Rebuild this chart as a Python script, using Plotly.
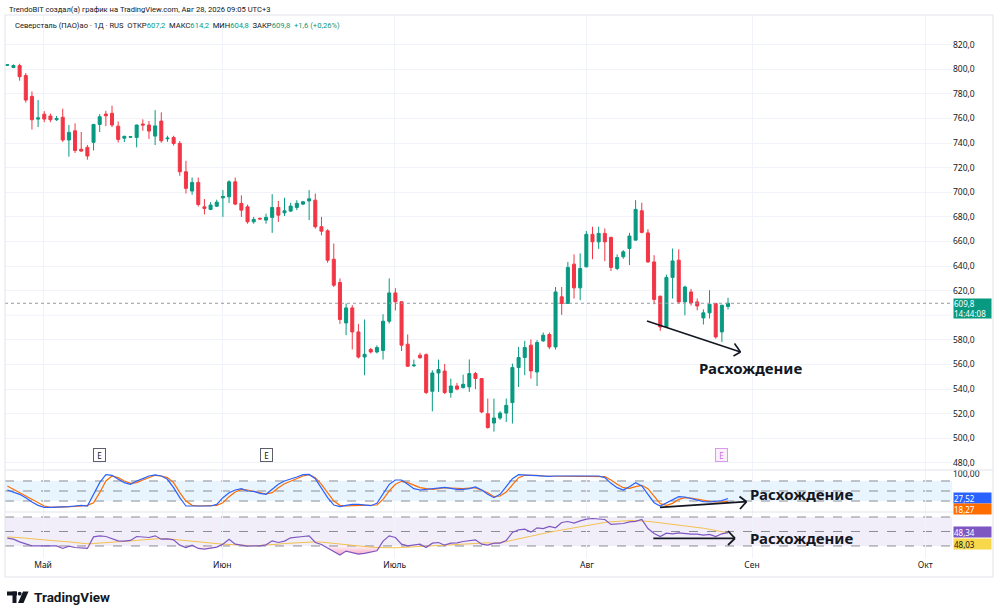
import plotly.graph_objects as go

# ---------------- data ----------------
opens = [803.3,801.5,803.0,795.0,778.0,759.5,763.5,762.0,759.0,761.0,742.5,750.0,735.0,736.5,740.6,755.2,763.6,764.2,753.8,744.0,
         744.8,744.6,755.5,754.7,745.7,757.9,743.5,744.6,739.8,716.7,701.0,708.0,688.2,686.1,688.7,695.5,696.3,708.5,691.0,688.2,
         676.0,678.8,677.4,679.6,687.7,683.3,684.7,687.7,690.4,693.0,693.6,672.0,668.7,645.6,626.7,593.8,606.0,586.5,566.1,572.2,
         570.2,571.4,595.2,618.2,611.0,576.5,559.0,567.5,568.0,538.2,553.1,554.7,537.2,542.5,541.2,541.8,552.6,548.6,520.0,512.4,
         516.5,520.5,529.0,557.5,565.7,575.7,553.9,579.2,584.4,574.3,615.0,609.6,641.6,622.3,639.4,665.8,659.7,666.6,663.3,638.1,
         647.6,654.3,661.1,685.0,667.0,643.4,615.5,590.5,630.8,644.8,610.9,619.0,610.9,597.9,602.0,609.6,586.5,607.2]
highs = [804.0,804.0,804.5,797.0,782.0,775.0,766.0,764.0,762.0,768.0,754.7,756.0,749.0,738.5,755.5,763.6,766.3,770.4,757.5,746.0,
         745.8,755.0,759.3,758.0,766.8,765.0,746.0,746.0,741.6,725.6,712.0,712.0,694.5,692.0,694.0,701.8,709.8,712.0,697.5,690.0,
         680.0,679.5,682.6,698.5,693.0,695.5,691.5,693.6,693.0,701.8,699.0,680.0,670.0,658.4,630.0,609.6,608.2,593.0,596.6,573.5,
         575.6,600.9,630.0,622.0,611.5,584.4,564.0,569.5,569.0,555.3,564.0,560.4,548.6,545.0,551.7,564.1,554.0,549.0,532.3,532.3,
         522.0,532.3,560.7,574.3,579.2,580.4,579.8,586.0,586.0,623.0,623.0,643.4,649.5,650.3,668.5,672.0,672.0,670.6,664.0,649.5,
         653.0,667.0,693.6,691.5,670.0,648.9,616.0,633.0,654.3,653.6,624.0,621.5,613.6,604.8,620.4,610.0,608.5,614.2]
lows = [802.8,801.0,790.7,773.0,751.0,753.0,757.0,757.0,758.0,741.0,729.0,732.0,733.0,726.5,734.0,749.0,753.8,753.0,740.5,740.8,
        744.3,736.5,750.0,743.4,738.4,740.3,741.0,738.0,713.4,699.0,698.0,688.5,682.0,685.5,688.0,680.0,691.3,689.5,680.0,674.5,
        674.5,678.0,674.5,667.0,675.9,680.8,684.0,685.5,689.5,677.4,670.5,665.0,642.7,623.0,593.0,583.8,572.2,564.9,551.3,569.0,
        569.0,564.0,593.3,604.0,571.0,558.0,558.0,564.5,536.0,521.9,537.7,536.0,533.0,539.0,540.5,537.7,540.0,520.5,507.9,505.4,
        515.0,513.3,512.0,541.7,551.3,548.6,542.5,578.5,572.5,572.2,600.3,609.6,613.6,612.3,639.0,645.6,654.0,644.0,636.0,636.8,
        646.0,640.8,661.0,666.6,642.6,609.0,587.3,590.0,613.6,609.6,600.0,608.0,604.0,592.5,597.4,581.0,578.3,604.8]
closes = [803.6,803.0,794.0,775.0,759.0,760.5,759.5,759.0,760.0,742.5,748.7,734.0,733.5,729.5,755.2,761.4,762.2,754.7,743.0,745.5,
          745.2,754.7,754.7,749.8,754.0,741.9,744.0,739.7,716.7,703.2,708.0,690.0,686.9,689.6,692.0,696.6,708.5,690.4,685.5,676.0,
          678.0,678.3,679.6,687.7,681.4,685.0,688.8,691.0,692.3,694.7,672.0,668.4,644.8,624.5,596.6,606.0,586.5,566.1,568.3,570.2,
          573.8,595.2,618.2,611.0,575.7,558.6,559.5,565.6,537.2,553.1,555.9,537.2,542.5,540.0,543.9,552.6,548.6,521.4,508.7,516.5,
          520.5,526.8,557.5,565.7,573.8,554.8,577.9,583.8,574.3,619.0,609.6,638.9,622.3,638.1,665.8,659.7,666.6,659.7,638.9,647.0,
          651.6,664.4,686.1,667.4,643.4,612.9,590.5,630.8,644.2,610.9,623.0,610.0,607.6,602.0,609.0,582.4,608.2,609.8]

stoch_k = [53,47,40,30,17,7,1,1,1,1,3,5,7,5,40,75,99,97,85,75,70,80,87,95,98,95,85,60,30,5,5,5,5,5,10,30,45,53,57,50,
           49,43,40,55,70,80,85,92,99,99.5,87,57,30,8,3,7,10,10,7,6,13,40,70,83,83,70,57,53,55,55,58,61,58,55,55,57,62,53,40,30,
           40,63,87,99,98,97,95,95,94,95,95,94,95,95,94,95,95,90,73,60,53,63,75,65,40,15,5,15,25,33,32,27,22,18,17,18,21,27.52]
stoch_d = [65,55,45,35,25,15,5,1,1,2,3,4,6,7,15,45,80,95,90,80,73,75,83,90,97,95,90,75,45,20,7,5,5,5,7,15,33,47,55,53,
           49,45,41,45,60,72,79,87,95,99,90,70,45,20,7,5,6,7,8,7,8,25,50,70,79,75,67,60,57,55,57,60,59,57,57,59,59,53,45,33,
           35,47,70,90,97,98,97,95,95,95,95,95,95,95,95,95,95,93,83,70,60,58,63,67,57,35,12,7,13,25,30,29,25,22,19,17,17,18.27]
rsi = [40.8,39.4,35.7,32.5,30.2,30.2,30.2,29.8,30.2,26.6,29.8,27.9,27.5,26.6,42.6,44,43.1,40.3,37.1,36.7,
       37.6,43.1,42.6,41.7,44,39.4,39.9,38.5,31.1,27.9,31.1,26.6,25.6,27,28.4,32.5,39.4,32.5,31.1,29.8,
       30.2,30.2,31.6,37.1,34.8,36.7,41.3,42.6,43.1,44,34.8,32.1,27.5,22.4,17.4,22.9,21,18.7,19.7,21,
       23.3,36.7,44,41.7,32.5,30.2,31.1,32.5,27.9,33.9,34.8,31.1,33.9,34.4,36.2,37.6,38.5,32.5,31.1,33.9,
       33.9,37.6,48.6,52.3,53.2,49.1,55.1,54.1,56.9,55.1,62.4,63.8,61.5,64.7,67,67.9,67,66.6,59.7,60.1,
       61,63.3,64,66.5,54.1,47.2,43.1,47.7,46.8,48.2,46.8,46.3,46.3,44.9,45.9,43.1,46.8,48.34]
rsi_ma = [42.6,42.2,41.7,40.8,39.9,39,38,37.6,36.7,36.2,35.7,34.8,33.9,33,33.4,33.9,34.8,35.3,35.7,36.2,
          37.1,37.6,38.5,39.4,40.3,40.3,39.9,39,38,37.1,36.2,35.3,34.4,33.4,33,32.5,32.1,31.6,31.1,30.2,
          30.2,30.7,31.1,31.6,32.5,33.4,33.9,34.8,35.3,35.7,35.7,35.3,34.4,33.4,32.1,31.1,30.2,29.3,28.9,28.4,
          27.9,27.5,27.5,27.5,27.9,28.4,28.9,29.3,29.8,30.2,30.7,31.1,31.6,32.1,32.5,33,33.4,33.9,34.4,33.5,
          34.5,36,38,40,42,44,45.5,47,49,50.5,52,54,55.5,57,58.5,60,61.5,62.5,63.3,64,
          64.5,65,65,64.8,64,63,62,61,60,59,58,57,56,54.5,53,51.5,50,48.03]

month_pos = [5.8, 34.9, 62.9, 94.1, 120.9, 149.0]
month_names = ["Май", "Июн", "Июль", "Авг", "Сен", "Окт"]
price_ticks = [t for t in range(480, 821, 20) if t != 600]   # 600,0 is hidden by the last-price tag
hidden_grid = [600]
stoch_levels = [80, 50, 20]
rsi_levels = [70, 50, 30]
earnings_idx = [15, 42, 116]

bars = list(range(len(closes)))

# ---------------- geometry helpers (pixel -> paper) ----------------
PL, PR, PT, PB = 5, 952, 15, 558
def px(x):
    return (x - PL) / (PR - PL)
def py(y):
    return 1 - (y - PT) / (PB - PT)

GREEN = "#089981"
RED = "#F23645"
TXT = "#131722"
GRID = "#f0f3fa"
FONT = "Noto Sans"

fig = go.Figure()

fig.add_trace(go.Candlestick(
    x=bars, open=opens, high=highs, low=lows, close=closes,
    increasing=dict(line=dict(color=GREEN, width=1), fillcolor=GREEN),
    decreasing=dict(line=dict(color=RED, width=1), fillcolor=RED),
    whiskerwidth=0, hoverinfo="skip", xaxis="x", yaxis="y", showlegend=False))

fig.add_trace(go.Scatter(x=bars, y=stoch_d, mode="lines", line=dict(color="#FF6D00", width=1.2),
                         xaxis="x2", yaxis="y2", hoverinfo="skip", showlegend=False))
fig.add_trace(go.Scatter(x=bars, y=stoch_k, mode="lines", line=dict(color="#2962FF", width=1.2),
                         xaxis="x2", yaxis="y2", hoverinfo="skip", showlegend=False))

# oversold gradient fill under 30
fig.add_trace(go.Scatter(x=bars, y=[rsi_levels[2]] * len(bars), mode="lines", line=dict(width=0),
                         xaxis="x3", yaxis="y3", hoverinfo="skip", showlegend=False))
fig.add_trace(go.Scatter(x=bars, y=[min(v, rsi_levels[2]) for v in rsi], mode="lines", line=dict(width=0),
                         fill="tonexty",
                         fillgradient=dict(type="vertical", start=0, stop=rsi_levels[2],
                                           colorscale=[[0, "rgba(242,54,120,1)"], [1, "rgba(242,54,120,0.05)"]]),
                         xaxis="x3", yaxis="y3", hoverinfo="skip", showlegend=False))
fig.add_trace(go.Scatter(x=bars, y=rsi_ma, mode="lines", line=dict(color="#F2C14E", width=1),
                         xaxis="x3", yaxis="y3", hoverinfo="skip", showlegend=False))
fig.add_trace(go.Scatter(x=bars, y=rsi, mode="lines", line=dict(color="#7E57C2", width=1.2),
                         xaxis="x3", yaxis="y3", hoverinfo="skip", showlegend=False))

x_lo = (PL - 7.3) / 6.16
x_hi = (PR - 7.3) / 6.16

xcommon = dict(range=[x_lo, x_hi], tickvals=month_pos, ticktext=month_names, showgrid=True,
               gridcolor=GRID, gridwidth=1, zeroline=False, showline=False, ticks="", fixedrange=True)

shapes = []
for gv in hidden_grid:
    shapes.append(dict(type="line", xref="paper", yref="y", x0=0, x1=1, y0=gv, y1=gv,
                       line=dict(color=GRID, width=1), layer="below"))
# pane bands and level lines
shapes.append(dict(type="rect", xref="paper", yref="y2", x0=0, x1=1, y0=stoch_levels[2], y1=stoch_levels[0],
                   fillcolor="rgba(33,150,243,0.1)", line=dict(width=0), layer="below"))
shapes.append(dict(type="rect", xref="paper", yref="y3", x0=0, x1=1, y0=rsi_levels[2], y1=rsi_levels[0],
                   fillcolor="rgba(126,87,194,0.1)", line=dict(width=0), layer="below"))
for lv in stoch_levels:
    shapes.append(dict(type="line", xref="paper", yref="y2", x0=0, x1=1, y0=lv, y1=lv,
                       line=dict(color="#8a8d96", width=1, dash="dash"), layer="below"))
for lv in rsi_levels:
    shapes.append(dict(type="line", xref="paper", yref="y3", x0=0, x1=1, y0=lv, y1=lv,
                       line=dict(color="#8a8d96", width=1, dash="dash"), layer="below"))
# last price dotted line
shapes.append(dict(type="line", xref="paper", yref="y", x0=0, x1=1, y0=closes[-1], y1=closes[-1],
                   line=dict(color="#9598a1", width=1, dash="dot")))
# pane separators and frame
for ysep in (470, 512):
    shapes.append(dict(type="line", xref="paper", yref="paper", x0=px(5), x1=px(993), y0=py(ysep), y1=py(ysep),
                       line=dict(color="#e0e3eb", width=1)))
shapes.append(dict(type="rect", xref="paper", yref="paper", x0=px(5), x1=px(993), y0=py(15), y1=py(577),
                   line=dict(color="#e0e3eb", width=1), fillcolor="rgba(0,0,0,0)"))

# divergence drawings (black lines with open chevrons)
def seg(x0, y0, x1, y1, w):
    shapes.append(dict(type="line", xref="paper", yref="paper", x0=px(x0), y0=py(y0), x1=px(x1), y1=py(y1),
                       line=dict(color="#131722", width=w)))
seg(647, 321, 740.5, 352, 1.6); seg(734.5, 343.5, 740.5, 352, 1.6); seg(740.5, 352, 733.5, 356, 1.6)
seg(660, 507.3, 746.5, 501.7, 1.8); seg(739.5, 496.5, 746.5, 501.7, 1.8); seg(746.5, 501.7, 740, 509, 1.8)
seg(653.3, 538.3, 735, 538.3, 1.8); seg(728, 531, 735, 538.3, 1.8); seg(735, 538.3, 728, 545, 1.8)

# TradingView logo mark
shapes.append(dict(type="rect", xref="paper", yref="paper", x0=px(7), x1=px(17), y0=py(595.5), y1=py(591.5),
                   fillcolor=TXT, line=dict(width=0)))
shapes.append(dict(type="rect", xref="paper", yref="paper", x0=px(12.5), x1=px(16.5), y0=py(603), y1=py(591.5),
                   fillcolor=TXT, line=dict(width=0)))
shapes.append(dict(type="circle", xref="paper", yref="paper", x0=px(17.8), x1=px(21.6), y0=py(595.6), y1=py(591.8),
                   fillcolor=TXT, line=dict(width=0)))
shapes.append(dict(type="path", xref="paper", yref="paper",
                   path=f"M {px(23)},{py(591.5)} L {px(28.5)},{py(591.5)} L {px(23.5)},{py(603)} L {px(18)},{py(603)} Z",
                   fillcolor=TXT, line=dict(width=0)))

def fmt(v, d):
    return f"{v:.{d}f}".replace(".", ",")

HFONT = "Roboto"
ann = []
ann.append(dict(xref="paper", yref="paper", x=px(7), y=py(9), xanchor="left", yanchor="middle", showarrow=False,
                text="TrendoBIT создал(а) график на TradingView.com, Авг 28, 2026 09:05 UTC+3",
                font=dict(family=HFONT, size=7.6, color=TXT)))
chg = closes[-1] - closes[-2]
pct = chg / closes[-2] * 100
g = f"<span style='color:{GREEN}'>"
ann.append(dict(xref="paper", yref="paper", x=px(13), y=py(26), xanchor="left", yanchor="middle", showarrow=False,
                text=(f"Северсталь (ПАО)ао · 1Д · RUS  ОТКР{g}{fmt(opens[-1],1)}</span>  МАКС{g}{fmt(highs[-1],1)}</span>  "
                      f"МИН{g}{fmt(lows[-1],1)}</span>  ЗАКР{g}{fmt(closes[-1],1)}</span>  {g}+{fmt(chg,1)} (+{fmt(pct,2)}%)</span>"),
                font=dict(family=HFONT, size=7.6, color=TXT)))
# labels
for (tx, ty) in [(697, 368), (748, 494), (748, 538)]:
    ann.append(dict(xref="paper", yref="paper", x=px(tx), y=py(ty), xanchor="left", yanchor="middle", showarrow=False,
                    text="<b>Расхождение</b>", font=dict(family=FONT, size=15, color="#131722")))
# earnings markers
for j, ei in enumerate(earnings_idx):
    future = j == len(earnings_idx) - 1
    ann.append(dict(xref="x", yref="paper", x=ei, y=py(462), showarrow=False, text="E",
                    font=dict(family=FONT, size=8, color="#c46fd8" if future else TXT),
                    bordercolor="#d99be6" if future else "#5d606b", borderwidth=1, borderpad=1,
                    bgcolor="#fbeffd" if future else "#ffffff", width=9, height=10))
# value tags on the right scale
def tag(yc, text, bg, fg, h=10):
    ann.append(dict(xref="paper", yref="paper", x=px(952.5), y=py(yc), xanchor="left", yanchor="middle",
                    showarrow=False, text=text, font=dict(family=FONT, size=8, color=fg), bgcolor=bg,
                    width=37, height=h, align="left", borderpad=0))
tag(308.5, f"{fmt(closes[-1],1)}<br>14:44:08", GREEN, "#ffffff", h=19)
tag(498, fmt(stoch_k[-1], 2), "#2962FF", "#ffffff")
tag(509, fmt(stoch_d[-1], 2), "#FF6D00", "#ffffff")
tag(532, fmt(rsi[-1], 2), "#7E57C2", "#ffffff")
tag(544, fmt(rsi_ma[-1], 2), "#F7D84A", TXT)
ann.append(dict(xref="paper", yref="paper", x=px(32), y=py(597), xanchor="left", yanchor="middle", showarrow=False,
                text="<b>TradingView</b>", font=dict(family="Roboto", size=13.5, color=TXT)))

yfont = dict(family=FONT, size=8.5, color=TXT)
fig.update_layout(
    width=1000, height=616, margin=dict(l=PL, r=1000 - PR, t=PT, b=616 - PB),
    paper_bgcolor="#ffffff", plot_bgcolor="#ffffff", separators=", ",
    showlegend=False, hovermode=False, dragmode=False,
    font=dict(family=FONT, color=TXT),
    xaxis=dict(xcommon, anchor="y", showticklabels=False, rangeslider=dict(visible=False)),
    xaxis2=dict(xcommon, anchor="y2", matches="x", showticklabels=False),
    xaxis3=dict(xcommon, anchor="y3", matches="x", showticklabels=True, tickfont=yfont),
    yaxis=dict(domain=[py(469), 1], range=[820 - (469 - 44.7) / 1.23, 820 + (44.7 - 15) / 1.23], autorange=False,
               side="right", tickvals=price_ticks, tickformat=".1f", showgrid=True, gridcolor=GRID,
               zeroline=False, ticks="", tickfont=yfont, anchor="x", fixedrange=True),
    yaxis2=dict(domain=[py(512), py(470)], range=[-12.9, 112.9], side="right", tickvals=[100], tickformat=".2f",
                showgrid=False, zeroline=False, ticks="", tickfont=yfont, anchor="x2", fixedrange=True),
    yaxis3=dict(domain=[0, py(512)], range=[13.4, 76.9], side="right", tickvals=[], showgrid=False,
                zeroline=False, ticks="", anchor="x3", fixedrange=True),
    shapes=shapes, annotations=ann,
)

fig.write_html("out.html", config={"displayModeBar": False, "staticPlot": True},
               post_script="document.body.style.margin='0px';document.body.style.overflow='hidden';")
